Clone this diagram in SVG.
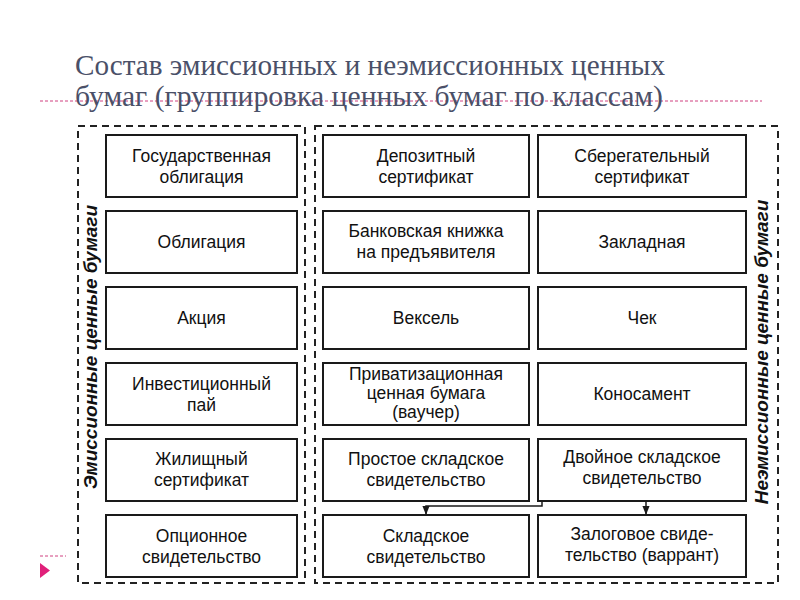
<svg xmlns="http://www.w3.org/2000/svg" width="800" height="600" viewBox="0 0 800 600">
<defs>
<style>
.title{font-family:"Liberation Serif","DejaVu Serif",serif;font-size:29px;fill:#4a5068}
.frame{fill:none;stroke:#222;stroke-width:2;stroke-dasharray:7,5}
.box rect{fill:#fff;stroke:#1a1a1a;stroke-width:2}
.box text{font-family:"Liberation Sans",Arial,sans-serif;font-size:17.5px;fill:#111;text-anchor:middle}
.side{font-family:"Liberation Sans",Arial,sans-serif;font-size:19px;font-weight:bold;font-style:italic;fill:#111;text-anchor:middle}
.conn{fill:none;stroke:#1a1a1a;stroke-width:1.5}
</style>
<marker id="arr" viewBox="0 0 10 10" refX="9" refY="5" markerWidth="6" markerHeight="6" orient="auto">
<path d="M0,1 L10,5 L0,9 z" fill="#1a1a1a"/>
</marker>
</defs>
<rect width="800" height="600" fill="#fff"/>
<text class="title" x="75" y="75" textLength="590" lengthAdjust="spacingAndGlyphs">Состав эмиссионных и неэмиссионных ценных</text>
<line x1="40" y1="101" x2="762" y2="101" stroke="#d04080" stroke-width="1" stroke-dasharray="3,2"/>
<text class="title" x="75" y="106" textLength="588" lengthAdjust="spacingAndGlyphs">бумаг (группировка ценных бумаг по классам)</text>
<line x1="40" y1="556" x2="66" y2="556" stroke="#d04080" stroke-width="1" stroke-dasharray="3,2"/>
<polygon points="40,563 50,570.5 40,578" fill="#e0207a"/>

<rect class="frame" x="78" y="126" width="227" height="457"/>
<rect class="frame" x="315" y="126" width="463" height="457"/>
<text class="side" transform="translate(97,347) rotate(-90)">Эмиссионные ценные бумаги</text>
<text class="side" transform="translate(768,352) rotate(-90)">Неэмиссионные ценные бумаги</text>

<g id="n1" class="box"><rect x="106" y="135" width="191" height="62"/><text x="201.5" y="162">Государственная</text><text x="201.5" y="183">облигация</text></g>
<g id="n2" class="box"><rect x="106" y="211" width="191" height="62"/><text x="201.5" y="248">Облигация</text></g>
<g id="n3" class="box"><rect x="106" y="287" width="191" height="62"/><text x="201.5" y="324">Акция</text></g>
<g id="n4" class="box"><rect x="106" y="363" width="191" height="62"/><text x="201.5" y="390">Инвестиционный</text><text x="201.5" y="411">пай</text></g>
<g id="n5" class="box"><rect x="106" y="439" width="191" height="62"/><text x="201.5" y="465">Жилищный</text><text x="201.5" y="486">сертификат</text></g>
<g id="n6" class="box"><rect x="106" y="515" width="191" height="62"/><text x="201.5" y="542">Опционное</text><text x="201.5" y="563">свидетельство</text></g>

<g id="m1" class="box"><rect x="323" y="135" width="206" height="62"/><text x="426" y="162">Депозитный</text><text x="426" y="183">сертификат</text></g>
<g id="m2" class="box"><rect x="323" y="211" width="206" height="62"/><text x="426" y="237">Банковская книжка</text><text x="426" y="258">на предъявителя</text></g>
<g id="m3" class="box"><rect x="323" y="287" width="206" height="62"/><text x="426" y="324">Вексель</text></g>
<g id="m4" class="box"><rect x="323" y="363" width="206" height="62"/><text x="426" y="380">Приватизационная</text><text x="426" y="399">ценная бумага</text><text x="426" y="418">(ваучер)</text></g>
<g id="m5" class="box"><rect x="323" y="439" width="206" height="62"/><text x="426" y="465">Простое складское</text><text x="426" y="486">свидетельство</text></g>
<g id="m6" class="box"><rect x="323" y="515" width="206" height="62"/><text x="426" y="542">Складское</text><text x="426" y="563">свидетельство</text></g>

<g id="r1" class="box"><rect x="538" y="135" width="208" height="62"/><text x="642" y="162">Сберегательный</text><text x="642" y="183">сертификат</text></g>
<g id="r2" class="box"><rect x="538" y="211" width="208" height="62"/><text x="642" y="248">Закладная</text></g>
<g id="r3" class="box"><rect x="538" y="287" width="208" height="62"/><text x="642" y="324">Чек</text></g>
<g id="r4" class="box"><rect x="538" y="363" width="208" height="62"/><text x="642" y="400">Коносамент</text></g>
<g id="r5" class="box"><rect x="538" y="439" width="208" height="62"/><text x="642" y="463">Двойное складское</text><text x="642" y="484">свидетельство</text></g>
<g id="r6" class="box"><rect x="538" y="515" width="208" height="62"/><text x="642" y="540">Залоговое свиде-</text><text x="642" y="561">тельство (варрант)</text></g>

<g id="connectors">
<path class="conn" d="M542,501 V506 H426 V514" marker-end="url(#arr)"/>
<path class="conn" d="M646,501 V514" marker-end="url(#arr)"/>
</g>
</svg>
